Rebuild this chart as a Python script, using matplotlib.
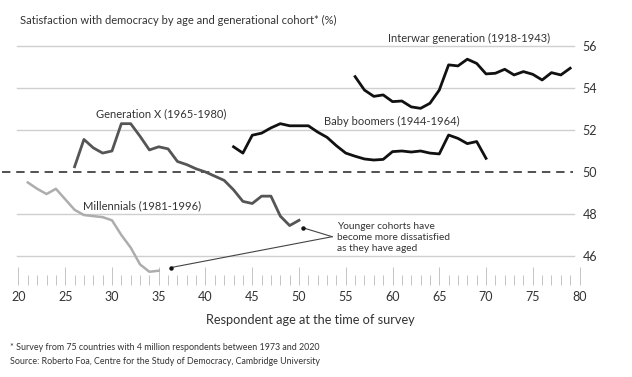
import matplotlib
matplotlib.use("Agg")
import matplotlib.pyplot as plt
import numpy as np

plt.rcParams['font.family'] = ['Lato', 'DejaVu Sans']

# ---- data ----
interwar_age = list(range(56, 80))
interwar = [54.54, 53.9, 53.6, 53.67, 53.35, 53.38, 53.1, 53.03, 53.27, 53.9,
            55.1, 55.05, 55.37, 55.17, 54.67, 54.7, 54.89, 54.62, 54.78, 54.65,
            54.38, 54.73, 54.62, 54.94]

boomer_age = list(range(43, 71))
boomers = [51.2, 50.9, 51.75, 51.85, 52.1, 52.3, 52.2, 52.2, 52.2, 51.9,
           51.65, 51.25, 50.9, 50.75, 50.62, 50.57, 50.6, 50.97, 51.0, 50.95,
           51.0, 50.9, 50.86, 51.76, 51.6, 51.35, 51.45, 50.65]

genx_age = list(range(26, 51))
genx = [50.25, 51.55, 51.15, 50.9, 51.0, 52.3, 52.3, 51.7, 51.05, 51.2,
        51.1, 50.5, 50.35, 50.15, 50.0, 49.8, 49.6, 49.15, 48.6, 48.5,
        48.85, 48.85, 47.9, 47.45, 47.7]

mill_age = list(range(21, 36))
mill = [49.5, 49.2, 48.95, 49.2, 48.7, 48.2, 47.95, 47.9, 47.85, 47.7,
        47.0, 46.4, 45.6, 45.25, 45.3]

y_ticks = [46, 48, 50, 52, 54, 56]
x_ticks = list(range(20, 81, 5))

series_labels = ["Interwar generation (1918-1943)", "Baby boomers (1944-1964)",
                 "Generation X (1965-1980)", "Millennials (1981-1996)"]

# ---- figure ----
W, H = 632, 377
fig = plt.figure(figsize=(W / 100, H / 100), dpi=100)
fig.patch.set_facecolor('white')

ax_left_px, ax_right_px = 13.8, 581.4
ax_top_px, ax_bot_px = 30, 285
ax = fig.add_axes([ax_left_px / W, 1 - ax_bot_px / H,
                   (ax_right_px - ax_left_px) / W, (ax_bot_px - ax_top_px) / H])
ax.set_xlim(19.5, 80.2)
ax.set_ylim(44.62, 56.76)
for s in ax.spines.values():
    s.set_visible(False)

# grid lines
for yv in y_ticks:
    if yv == 50:
        ax.plot([18.2, 79.3], [yv, yv], color='#222222', lw=1.1,
                dashes=(5.5, 3.8), clip_on=False, zorder=1)
    else:
        ax.plot([19.8, 79.4], [yv, yv], color='#cfcfcf', lw=1.0, zorder=1)

# lines
ax.plot(interwar_age, interwar, color='#111111', lw=2.0, zorder=3)
ax.plot(boomer_age, boomers, color='#111111', lw=2.0, zorder=3)
ax.plot(genx_age, genx, color='#555555', lw=2.0, zorder=3)
ax.plot(mill_age, mill, color='#adadad', lw=1.8, zorder=3)

# labels of series
tc = '#333333'
ax.text(59.5, 56.38, series_labels[0], fontsize=8, color=tc, ha='left', va='center')
ax.text(52.7, 52.4, series_labels[1], fontsize=8, color=tc, ha='left', va='center')
ax.text(28.3, 52.77, series_labels[2], fontsize=8, color=tc, ha='left', va='center')
ax.text(26.9, 48.4, series_labels[3], fontsize=8, color=tc, ha='left', va='center')

# annotation
jx, jy = 53.55, 46.92
ax.text(54.05, 47.6, "Younger cohorts have\nbecome more dissatisfied\nas they have aged",
        fontsize=7.3, color=tc, ha='left', va='top', linespacing=1.25)
d1 = (genx_age[-1] + 0.46, genx[-1] - 0.36)
d2 = (mill_age[-1] + 1.3, mill[-1] + 0.15)
for dx, dy in (d1, d2):
    ax.plot([jx, dx], [jy, dy], color='#444444', lw=0.8, zorder=4)
    ax.plot([dx], [dy], 'o', color='#111111', ms=2.2, zorder=5)

# x ticks
ax.set_xticks(x_ticks)
ax.set_xticks(list(range(21, 80)), minor=True)
ax.tick_params(axis='x', which='major', direction='in', length=13, width=0.7,
               color='#c4c4c4', labelsize=9, labelcolor='#333333', pad=4)
ax.tick_params(axis='x', which='minor', direction='in', length=7, width=0.7,
               color='#c4c4c4')

# y ticks on right
ax.yaxis.tick_right()
ax.set_yticks(y_ticks)
ax.tick_params(axis='y', length=0, labelsize=9, labelcolor='#333333', pad=1)

ax.set_xlabel("Respondent age at the time of survey", fontsize=9.2, color='#333333')
ax.xaxis.label.set_va('center')
ax.xaxis.set_label_coords((310 - ax_left_px) / (ax_right_px - ax_left_px),
                          -(320 - ax_bot_px) / (ax_bot_px - ax_top_px))

fig.text(20 / W, 1 - 20 / H, "Satisfaction with democracy by age and generational cohort* (%)",
         fontsize=8, color='#333333', ha='left', va='center')
fig.text(10 / W, 1 - 348 / H,
         "* Survey from 75 countries with 4 million respondents between 1973 and 2020",
         fontsize=6.4, color='#333333', ha='left', va='center')
fig.text(10 / W, 1 - 362 / H,
         "Source: Roberto Foa, Centre for the Study of Democracy, Cambridge University",
         fontsize=6.4, color='#333333', ha='left', va='center')

fig.savefig("out.png", dpi=100, facecolor='white')
